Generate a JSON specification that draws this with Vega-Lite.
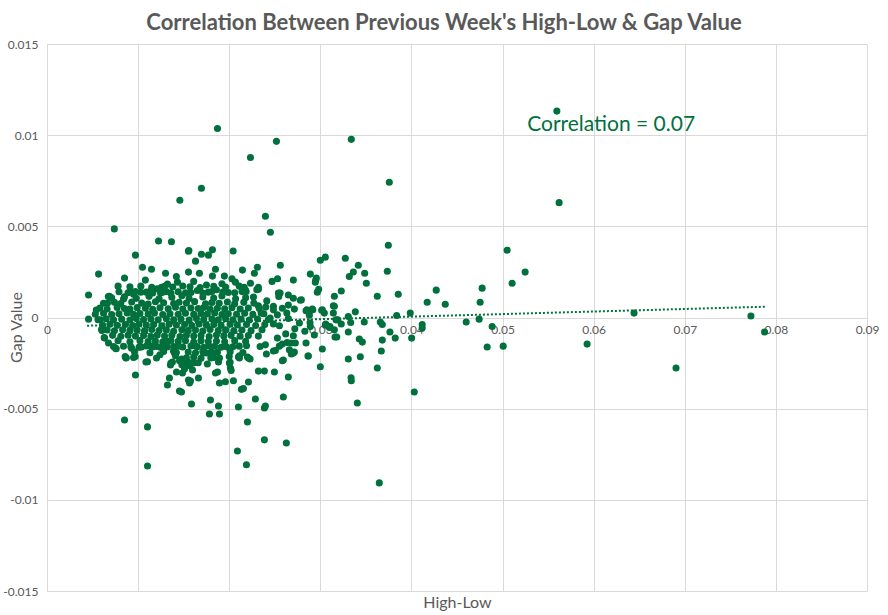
{
  "$schema": "https://vega.github.io/schema/vega-lite/v6.json",
  "autosize": "none",
  "padding": {"left": 47, "top": 44, "right": 21, "bottom": 24},
  "width": 820,
  "height": 547,
  "background": "white",
  "title": {
    "text": "Correlation Between Previous Week's High-Low & Gap Value",
    "font": "Lato",
    "fontSize": 22,
    "fontWeight": "bold",
    "color": "#595959",
    "anchor": "middle",
    "offset": 3,
    "dx": -13
  },
  "datasets": {
    "points": [
      {"x":0.05596,"y":0.01132},{"x":0.01871,"y":0.01037},{"x":0.02518,"y":0.00966},{"x":0.0334,"y":0.00977},
      {"x":0.02233,"y":0.00878},{"x":0.03757,"y":0.00742},{"x":0.01695,"y":0.00709},{"x":0.05621,"y":0.0063},
      {"x":0.01458,"y":0.00643},{"x":0.02397,"y":0.00555},{"x":0.02452,"y":0.00468},{"x":0.00739,"y":0.00486},
      {"x":0.01224,"y":0.0042},{"x":0.01366,"y":0.00415},{"x":0.01557,"y":0.00367},{"x":0.01816,"y":0.00371},
      {"x":0.02043,"y":0.00365},{"x":0.03746,"y":0.00396},{"x":0.0505,"y":0.00369},{"x":0.05248,"y":0.00249},
      {"x":0.05105,"y":0.00188},{"x":0.04776,"y":0.00161},{"x":0.04272,"y":0.0015},{"x":0.04173,"y":0.00084},
      {"x":0.04371,"y":0.00073},{"x":0.04754,"y":0.00084},{"x":0.03855,"y":0.00128},{"x":0.03625,"y":0.00117},
      {"x":0.03735,"y":0.00254},{"x":0.03274,"y":0.00325},{"x":0.03417,"y":0.00287},{"x":0.03362,"y":0.0025},
      {"x":0.03318,"y":0.00225},{"x":0.03487,"y":0.00243},{"x":0.03505,"y":0.00188},{"x":0.0323,"y":0.00145},
      {"x":0.03154,"y":0.00117},{"x":0.03055,"y":0.00331},{"x":0.03,"y":0.00314},{"x":0.0289,"y":0.00238},
      {"x":0.0295,"y":0.00206},{"x":0.02982,"y":0.00155},{"x":0.02792,"y":0.00097},{"x":0.03154,"y":0.00062},
      {"x":0.03384,"y":0.00031},{"x":0.02843,"y":0.00037},{"x":0.02912,"y":0.00046},{"x":0.03015,"y":0.0004},
      {"x":0.03143,"y":0.00024},{"x":0.03307,"y":0.00005},{"x":0.03838,"y":0.00011},{"x":0.03987,"y":0.00024},
      {"x":0.03658,"y":-0.00025},{"x":0.0368,"y":-0.00038},{"x":0.03482,"y":-0.00025},{"x":0.03333,"y":-0.00027},
      {"x":0.0323,"y":-0.00036},{"x":0.03191,"y":-0.00013},{"x":0.03059,"y":-0.00036},{"x":0.03106,"y":-0.00049},
      {"x":0.02887,"y":-0.00029},{"x":0.04118,"y":-0.00038},{"x":0.04118,"y":-0.00058},{"x":0.04601,"y":-0.00025},
      {"x":0.04743,"y":-0.00009},{"x":0.04886,"y":-0.00049},{"x":0.03154,"y":-0.00067},{"x":0.03764,"y":-0.0008},
      {"x":0.03822,"y":-0.00113},{"x":0.04002,"y":-0.00113},{"x":0.03161,"y":-0.00107},{"x":0.02934,"y":-0.00096},
      {"x":0.03307,"y":-0.0008},{"x":0.03428,"y":-0.00118},{"x":0.03461,"y":-0.00135},{"x":0.0368,"y":-0.00124},
      {"x":0.02843,"y":-0.0014},{"x":0.03022,"y":-0.00173},{"x":0.02865,"y":-0.00211},{"x":0.03307,"y":-0.00228},
      {"x":0.03439,"y":-0.00215},{"x":0.03669,"y":-0.00184},{"x":0.03,"y":-0.0027},{"x":0.03625,"y":-0.00277},
      {"x":0.03337,"y":-0.0033},{"x":0.04831,"y":-0.00162},{"x":0.05007,"y":-0.00157},{"x":0.05928,"y":-0.00146},
      {"x":0.06443,"y":0.00024},{"x":0.07726,"y":0.00008},{"x":0.07876,"y":-0.0008},{"x":0.06904,"y":-0.00277},
      {"x":0.00851,"y":-0.00562},{"x":0.01103,"y":-0.006},{"x":0.01103,"y":-0.00814},{"x":0.03647,"y":-0.00907},
      {"x":0.0209,"y":-0.00732},{"x":0.02189,"y":-0.00808},{"x":0.02386,"y":-0.00671},{"x":0.02627,"y":-0.00688},
      {"x":0.022,"y":-0.00573},{"x":0.01783,"y":-0.00529},{"x":0.01893,"y":-0.00529},{"x":0.01586,"y":-0.00474},
      {"x":0.01794,"y":-0.00452},{"x":0.01882,"y":-0.00485},{"x":0.02101,"y":-0.00491},{"x":0.02386,"y":-0.00496},
      {"x":0.02397,"y":-0.00485},{"x":0.02287,"y":-0.00447},{"x":0.02594,"y":-0.00436},{"x":0.03406,"y":-0.00469},
      {"x":0.04031,"y":-0.00409},{"x":0.01476,"y":-0.00409},{"x":0.01322,"y":-0.0037},{"x":0.01564,"y":-0.00359},
      {"x":0.01893,"y":-0.00359},{"x":0.01958,"y":-0.00352},{"x":0.02046,"y":-0.00347},{"x":0.02211,"y":-0.00354},
      {"x":0.02134,"y":-0.00394},{"x":0.02156,"y":-0.0039},{"x":0.0334,"y":-0.00347},{"x":0.00971,"y":-0.00315},
      {"x":0.0087,"y":-0.00221},{"x":0.0095,"y":-0.00219},{"x":0.01086,"y":-0.00244},{"x":0.01103,"y":-0.00243},
      {"x":0.01239,"y":-0.00204},{"x":0.01344,"y":-0.00332},{"x":0.01421,"y":-0.00299},{"x":0.01662,"y":-0.00332},
      {"x":0.0232,"y":-0.00294},{"x":0.02386,"y":-0.00294},{"x":0.02496,"y":-0.00299},{"x":0.02649,"y":-0.00326},
      {"x":0.02594,"y":-0.00233},{"x":0.02682,"y":-0.002},{"x":0.02715,"y":-0.00189},{"x":0.02868,"y":-0.00211},
      {"x":0.02726,"y":-0.0014},{"x":0.02583,"y":-0.00146},{"x":0.02485,"y":-0.00184},{"x":0.02408,"y":-0.002},
      {"x":0.02211,"y":-0.00222},{"x":0.02112,"y":-0.00222},{"x":0.02002,"y":-0.0025},{"x":0.02013,"y":-0.00277},
      {"x":0.01871,"y":-0.00299},{"x":0.01849,"y":-0.00304},{"x":0.01893,"y":-0.00222},{"x":0.01805,"y":-0.00189},
      {"x":0.01717,"y":-0.00195},{"x":0.01608,"y":-0.0025},{"x":0.01597,"y":-0.00288},{"x":0.01575,"y":-0.00348},
      {"x":0.01509,"y":-0.00272},{"x":0.01498,"y":-0.00244},{"x":0.01377,"y":-0.00244},{"x":0.01355,"y":-0.00261},
      {"x":0.01388,"y":-0.00184},{"x":0.01476,"y":-0.00228},{"x":0.013,"y":-0.00151},{"x":0.01158,"y":-0.00162},
      {"x":0.01015,"y":-0.00162},{"x":0.00928,"y":-0.00168},{"x":0.00971,"y":0.00342},{"x":0.01048,"y":0.00276},
      {"x":0.01147,"y":0.00265},{"x":0.00566,"y":0.00238},{"x":0.00851,"y":0.00216},{"x":0.01301,"y":0.00243},
      {"x":0.00456,"y":0.00123},{"x":0.00917,"y":0.00145},{"x":0.01136,"y":0.00145},{"x":0.00541,"y":0.00041},
      {"x":0.00456,"y":-0.00009},{"x":0.00686,"y":0.00117},{"x":0.01553,"y":0.00364},{"x":0.0163,"y":0.00309},
      {"x":0.01695,"y":0.00347},{"x":0.01553,"y":0.00249},{"x":0.01673,"y":0.00243},{"x":0.01257,"y":0.00166},
      {"x":0.01322,"y":0.00183},{"x":0.01432,"y":0.00194},{"x":0.01246,"y":0.00134},{"x":0.00752,"y":-0.00168},
      {"x":0.00675,"y":-0.0014},{"x":0.00632,"y":-0.00113},{"x":0.00599,"y":-0.00064},{"x":0.00866,"y":-0.00222},
      {"x":0.01454,"y":-0.00403},{"x":0.01553,"y":-0.00343},{"x":0.01487,"y":-0.00304},{"x":0.01202,"y":-0.00222},
      {"x":0.01037,"y":-0.00162},{"x":0.01147,"y":-0.00162},{"x":0.02561,"y":0.00287},{"x":0.02309,"y":0.00276},
      {"x":0.02276,"y":0.00243},{"x":0.02145,"y":0.0026},{"x":0.02704,"y":0.00205},{"x":0.02233,"y":0.00188},
      {"x":0.02068,"y":0.00194},{"x":0.0232,"y":0.00155},{"x":0.02178,"y":0.0015},{"x":0.0254,"y":0.00134},
      {"x":0.02649,"y":0.00123},{"x":0.02781,"y":0.00095},{"x":0.02485,"y":0.00062},{"x":0.02583,"y":0.00051},
      {"x":0.02715,"y":0.00046},{"x":0.0255,"y":-0.00157},{"x":0.02704,"y":-0.00195},{"x":0.02101,"y":-0.00217},
      {"x":0.01772,"y":0.00342},{"x":0.01849,"y":0.00265},{"x":0.01947,"y":0.00227},{"x":0.01816,"y":0.00227},
      {"x":0.02956,"y":0.00216},{"x":0.02945,"y":0.00194},{"x":0.02967,"y":0.00139},{"x":0.0232,"y":0.00166},
      {"x":0.00673,"y":0.00115},{"x":0.00664,"y":0.00079},{"x":0.0084,"y":0.00101},{"x":0.0095,"y":0.00128},
      {"x":0.00584,"y":-0.00013},{"x":0.00603,"y":-0.00071},{"x":0.00628,"y":-0.0011},{"x":0.0073,"y":-0.00159},
      {"x":0.0076,"y":-0.00171},{"x":0.00858,"y":-0.00214},{"x":0.00968,"y":-0.00214},{"x":0.01206,"y":-0.00159},
      {"x":0.01308,"y":-0.00144},{"x":0.0133,"y":-0.00131},{"x":0.01399,"y":-0.00195},{"x":0.0141,"y":-0.0021},
      {"x":0.0136,"y":-0.0025},{"x":0.01454,"y":-0.00237},{"x":0.0148,"y":-0.00259},{"x":0.01509,"y":-0.00283},
      {"x":0.01549,"y":-0.00244},{"x":0.01564,"y":-0.00265},{"x":0.01626,"y":-0.00155},{"x":0.01717,"y":-0.00186},
      {"x":0.01754,"y":-0.00195},{"x":0.01798,"y":-0.00222},{"x":0.01882,"y":-0.00244},{"x":0.02,"y":-0.00214},
      {"x":0.0201,"y":-0.00246},{"x":0.02021,"y":-0.0029},{"x":0.02112,"y":-0.0021},{"x":0.022,"y":-0.00217},
      {"x":0.02229,"y":-0.00228},{"x":0.02339,"y":-0.00159},{"x":0.02397,"y":-0.0015},{"x":0.02507,"y":-0.00181},
      {"x":0.02529,"y":-0.00113},{"x":0.02635,"y":-0.00137},{"x":0.02679,"y":-0.0014},{"x":0.02704,"y":-0.001},
      {"x":0.0266,"y":-0.00177},{"x":0.02583,"y":-0.00237},{"x":0.03055,"y":-0.00042},{"x":0.03099,"y":-0.00055},
      {"x":0.03172,"y":-0.00013},{"x":0.0318,"y":-0.00107},{"x":0.03143,"y":0.00064},{"x":0.03022,"y":0.00042},
      {"x":0.03044,"y":0.00024},{"x":0.02851,"y":0.00042},{"x":0.0288,"y":0.00013},{"x":0.02917,"y":0.00042},
      {"x":0.02632,"y":0.00024},{"x":0.02649,"y":-0.00005},{"x":0.02485,"y":0.00042},{"x":0.02529,"y":0.00015},
      {"x":0.02551,"y":-0.00045},{"x":0.02449,"y":-0.00003},{"x":0.02485,"y":-0.00035},{"x":0.02558,"y":0.00134},
      {"x":0.02544,"y":0.00115},{"x":0.02704,"y":0.00106},{"x":0.02649,"y":0.00068},{"x":0.02412,"y":0.00091},
      {"x":0.02401,"y":0.00057},{"x":0.0232,"y":0.00064},{"x":0.0235,"y":0.00024},{"x":0.02266,"y":0.00112},
      {"x":0.02303,"y":0.00152},{"x":0.02164,"y":0.00166},{"x":0.02186,"y":0.00142},
      {"x":0.0272,"y":-0.00062},{"x":0.0283,"y":-0.00075},{"x":0.0262,"y":-0.0009},{"x":0.0289,"y":-0.0005},{"x":0.0277,"y":-0.0003},
      {"x":0.0071,"y":0.00108},{"x":0.0085,"y":0.00113},{"x":0.0098,"y":0.00105},{"x":0.0112,"y":0.00116},{"x":0.0123,"y":0.00102},
      {"x":0.0137,"y":0.00111},{"x":0.0148,"y":0.00119},{"x":0.0156,"y":0.00104},{"x":0.0171,"y":0.00112},{"x":0.0183,"y":0.00107},
      {"x":0.0192,"y":0.00118},{"x":0.0207,"y":0.00103},{"x":0.0218,"y":0.00109},
      {"x":0.0062,"y":0.00078},{"x":0.0074,"y":0.00083},{"x":0.0081,"y":0.00076},{"x":0.0093,"y":0.00085},{"x":0.0104,"y":0.00079},
      {"x":0.0111,"y":0.00074},{"x":0.0119,"y":0.00086},{"x":0.0128,"y":0.00081},{"x":0.0139,"y":0.00077},{"x":0.0145,"y":0.00084},
      {"x":0.0153,"y":0.00079},{"x":0.0162,"y":0.00087},{"x":0.0174,"y":0.00075},{"x":0.0181,"y":0.00082},{"x":0.0189,"y":0.00078},
      {"x":0.0198,"y":0.00085},{"x":0.0206,"y":0.00076},{"x":0.0216,"y":0.00083},{"x":0.0227,"y":0.00079},
      {"x":0.0058,"y":0.00052},{"x":0.0066,"y":0.00047},{"x":0.0077,"y":0.00055},{"x":0.0085,"y":0.00049},{"x":0.0091,"y":0.00046},
      {"x":0.0099,"y":0.00054},{"x":0.0108,"y":0.00051},{"x":0.0116,"y":0.00045},{"x":0.0124,"y":0.00053},{"x":0.0133,"y":0.00048},
      {"x":0.0141,"y":0.00056},{"x":0.0149,"y":0.00047},{"x":0.0158,"y":0.00052},{"x":0.0166,"y":0.00049},{"x":0.0172,"y":0.00055},
      {"x":0.0179,"y":0.00046},{"x":0.0187,"y":0.00051},{"x":0.0195,"y":0.00048},{"x":0.0203,"y":0.00054},{"x":0.0212,"y":0.00047},
      {"x":0.0221,"y":0.00052},{"x":0.0233,"y":0.00049},
      {"x":0.0053,"y":0.00018},{"x":0.0062,"y":0.00023},{"x":0.0071,"y":0.00016},{"x":0.0079,"y":0.00021},{"x":0.0088,"y":0.00025},
      {"x":0.0095,"y":0.00017},{"x":0.0102,"y":0.00022},{"x":0.0111,"y":0.00019},{"x":0.0118,"y":0.00024},{"x":0.0127,"y":0.00016},
      {"x":0.0135,"y":0.00021},{"x":0.0144,"y":0.00018},{"x":0.0152,"y":0.00023},{"x":0.0161,"y":0.00017},{"x":0.0169,"y":0.00022},
      {"x":0.0176,"y":0.00019},{"x":0.0184,"y":0.00025},{"x":0.0192,"y":0.00016},{"x":0.0199,"y":0.00021},{"x":0.0208,"y":0.00018},
      {"x":0.0217,"y":0.00023},{"x":0.0226,"y":0.00017},{"x":0.0238,"y":0.00021},
      {"x":0.0056,"y":-0.00012},{"x":0.0065,"y":-0.00007},{"x":0.0073,"y":-0.00013},{"x":0.0082,"y":-0.00009},{"x":0.0091,"y":-0.00014},
      {"x":0.0098,"y":-0.00006},{"x":0.0106,"y":-0.00011},{"x":0.0114,"y":-0.00008},{"x":0.0122,"y":-0.00013},{"x":0.0131,"y":-0.00007},
      {"x":0.0139,"y":-0.00012},{"x":0.0147,"y":-0.00009},{"x":0.0156,"y":-0.00014},{"x":0.0164,"y":-0.00006},{"x":0.0172,"y":-0.00011},
      {"x":0.0181,"y":-0.00008},{"x":0.0188,"y":-0.00013},{"x":0.0196,"y":-0.00007},{"x":0.0204,"y":-0.00012},{"x":0.0213,"y":-0.00009},
      {"x":0.0222,"y":-0.00014},{"x":0.0231,"y":-0.00008},{"x":0.0243,"y":-0.00011},
      {"x":0.0061,"y":-0.00041},{"x":0.0069,"y":-0.00037},{"x":0.0077,"y":-0.00043},{"x":0.0086,"y":-0.00038},{"x":0.0094,"y":-0.00044},
      {"x":0.0101,"y":-0.00036},{"x":0.0109,"y":-0.00042},{"x":0.0117,"y":-0.00039},{"x":0.0126,"y":-0.00045},{"x":0.0134,"y":-0.00037},
      {"x":0.0142,"y":-0.00041},{"x":0.0151,"y":-0.00038},{"x":0.0159,"y":-0.00044},{"x":0.0167,"y":-0.00036},{"x":0.0175,"y":-0.00042},
      {"x":0.0183,"y":-0.00039},{"x":0.0191,"y":-0.00043},{"x":0.0201,"y":-0.00037},{"x":0.0209,"y":-0.00041},{"x":0.0219,"y":-0.00038},
      {"x":0.0229,"y":-0.00044},{"x":0.0239,"y":-0.00039},
      {"x":0.0066,"y":-0.00068},{"x":0.0074,"y":-0.00073},{"x":0.0083,"y":-0.00067},{"x":0.0091,"y":-0.00072},{"x":0.0099,"y":-0.00069},
      {"x":0.0107,"y":-0.00074},{"x":0.0115,"y":-0.00066},{"x":0.0123,"y":-0.00071},{"x":0.0131,"y":-0.00068},{"x":0.0139,"y":-0.00075},
      {"x":0.0148,"y":-0.00067},{"x":0.0155,"y":-0.00072},{"x":0.0163,"y":-0.00069},{"x":0.0171,"y":-0.00074},{"x":0.0179,"y":-0.00066},
      {"x":0.0188,"y":-0.00071},{"x":0.0196,"y":-0.00068},{"x":0.0205,"y":-0.00073},{"x":0.0214,"y":-0.00069},{"x":0.0224,"y":-0.00072},
      {"x":0.0236,"y":-0.00067},
      {"x":0.0072,"y":-0.00098},{"x":0.0081,"y":-0.00103},{"x":0.0089,"y":-0.00097},{"x":0.0097,"y":-0.00102},{"x":0.0106,"y":-0.00099},
      {"x":0.0114,"y":-0.00104},{"x":0.0121,"y":-0.00096},{"x":0.0129,"y":-0.00101},{"x":0.0137,"y":-0.00098},{"x":0.0146,"y":-0.00105},
      {"x":0.0153,"y":-0.00097},{"x":0.0161,"y":-0.00102},{"x":0.0169,"y":-0.00099},{"x":0.0178,"y":-0.00104},{"x":0.0186,"y":-0.00096},
      {"x":0.0194,"y":-0.00101},{"x":0.0202,"y":-0.00098},{"x":0.0212,"y":-0.00103},{"x":0.0221,"y":-0.00099},{"x":0.0232,"y":-0.00102},
      {"x":0.0078,"y":-0.00128},{"x":0.0091,"y":-0.00133},{"x":0.0102,"y":-0.00127},{"x":0.0111,"y":-0.00132},{"x":0.0119,"y":-0.00129},
      {"x":0.0127,"y":-0.00134},{"x":0.0136,"y":-0.00126},{"x":0.0144,"y":-0.00131},{"x":0.0152,"y":-0.00128},{"x":0.0161,"y":-0.00135},
      {"x":0.0169,"y":-0.00127},{"x":0.0177,"y":-0.00132},{"x":0.0186,"y":-0.00129},{"x":0.0195,"y":-0.00133},{"x":0.0206,"y":-0.00127},
      {"x":0.0218,"y":-0.00131},
      {"x":0.0084,"y":-0.00158},{"x":0.0101,"y":-0.00163},{"x":0.0116,"y":-0.00157},{"x":0.0125,"y":-0.00165},{"x":0.0139,"y":-0.00159},
      {"x":0.0149,"y":-0.00162},{"x":0.0158,"y":-0.00156},{"x":0.0172,"y":-0.00164},{"x":0.0184,"y":-0.00158},{"x":0.0197,"y":-0.00161},
      {"x":0.0211,"y":-0.00157},
      {"x":0.0092,"y":-0.00161},{"x":0.0109,"y":-0.00156},{"x":0.0132,"y":-0.00162},{"x":0.0144,"y":-0.00157},{"x":0.0165,"y":-0.0016},
      {"x":0.0178,"y":-0.00156},{"x":0.0191,"y":-0.00163},{"x":0.0204,"y":-0.0016},{"x":0.0219,"y":-0.00155},
      {"x":0.0096,"y":-0.00188},{"x":0.0113,"y":-0.00193},{"x":0.0128,"y":-0.00187},{"x":0.0142,"y":-0.00192},{"x":0.0155,"y":-0.00189},
      {"x":0.0163,"y":-0.00194},{"x":0.0171,"y":-0.00187},{"x":0.0187,"y":-0.00191},{"x":0.0201,"y":-0.00188},{"x":0.0215,"y":-0.00192},
      {"x":0.0153,"y":-0.00221},{"x":0.0161,"y":-0.00217},{"x":0.0169,"y":-0.00224},{"x":0.0183,"y":-0.00219},
      {"x":0.0157,"y":-0.00252},{"x":0.0166,"y":-0.00248},{"x":0.0176,"y":-0.00255},
      {"x":0.0103,"y":0.00138},{"x":0.0131,"y":0.00142},{"x":0.0152,"y":0.00135},{"x":0.0165,"y":0.00148},{"x":0.0177,"y":0.00139},
      {"x":0.0199,"y":0.00137},{"x":0.0121,"y":0.00157},{"x":0.0186,"y":0.00152},
      {"x":0.0079,"y":0.00141},{"x":0.0089,"y":0.00136},{"x":0.0097,"y":0.00143},{"x":0.0109,"y":0.00139},{"x":0.0116,"y":0.00134},
      {"x":0.0127,"y":0.00138},{"x":0.0136,"y":0.00133},{"x":0.0144,"y":0.00141},{"x":0.0158,"y":0.00137},{"x":0.0171,"y":0.00134},
      {"x":0.0181,"y":0.00143},{"x":0.0193,"y":0.00139},{"x":0.0206,"y":0.00136},{"x":0.0214,"y":0.00142},
      {"x":0.0091,"y":0.00168},{"x":0.0103,"y":0.00172},{"x":0.0115,"y":0.00166},{"x":0.0129,"y":0.00171},{"x":0.0138,"y":0.00167},
      {"x":0.0149,"y":0.00173},{"x":0.0157,"y":0.00168},{"x":0.0168,"y":0.00165},{"x":0.0183,"y":0.00171},{"x":0.0196,"y":0.00167},
      {"x":0.0211,"y":0.00172},
      {"x":0.0108,"y":0.00205},{"x":0.0142,"y":0.00225},{"x":0.0161,"y":0.00198},{"x":0.0192,"y":0.00185},{"x":0.0203,"y":0.00212},
      {"x":0.0175,"y":0.00178},{"x":0.0078,"y":0.00172},{"x":0.0253,"y":0.00213},{"x":0.0247,"y":0.00198}
    ],
    "trend": [
      {"x": 0.0044, "y": -0.00045},
      {"x": 0.0788, "y": 0.00059}
    ],
    "note": [
      {"x": 0.0527, "y": 0.01055, "label": "Correlation = 0.07"}
    ]
  },
  "encoding": {
    "x": {
      "field": "x",
      "type": "quantitative",
      "scale": {"domain": [0, 0.09], "nice": false, "zero": false},
      "axis": {
        "title": "High-Low",
        "values": [0, 0.01, 0.02, 0.03, 0.04, 0.05, 0.06, 0.07, 0.08, 0.09],
        "labelExpr": "'' + datum.value",
        "offset": -273,
        "ticks": false,
        "domainColor": "#d9d9d9",
        "labelPadding": 6,
        "labelFlush": false,
        "titleY": 284,
        "titleBaseline": "middle"
      }
    },
    "y": {
      "field": "y",
      "type": "quantitative",
      "scale": {"domain": [-0.015, 0.015], "nice": false, "zero": false},
      "axis": {
        "title": "Gap Value",
        "values": [-0.015, -0.01, -0.005, 0, 0.005, 0.01, 0.015],
        "labelExpr": "'' + datum.value",
        "ticks": false,
        "domain": false,
        "labelPadding": 9,
        "labelFlush": false,
        "titleX": -26,
        "titleY": 283,
        "titleBaseline": "alphabetic"
      }
    }
  },
  "layer": [
    {
      "data": {"name": "points"},
      "mark": {"type": "circle", "size": 50, "opacity": 1, "color": "#00703c"}
    },
    {
      "data": {"name": "trend"},
      "mark": {"type": "line", "color": "#00703c", "strokeWidth": 2, "strokeDash": [2, 2]}
    },
    {
      "data": {"name": "note"},
      "mark": {"type": "text", "align": "left", "baseline": "middle", "font": "Lato", "fontSize": 21, "color": "#00703c"},
      "encoding": {"text": {"field": "label"}}
    }
  ],
  "config": {
    "view": {"stroke": null},
    "axis": {
      "grid": true,
      "gridColor": "#d9d9d9",
      "labelFont": "Lato",
      "labelFontSize": 12,
      "labelColor": "#595959",
      "titleFont": "Lato",
      "titleFontSize": 16,
      "titleFontWeight": "normal",
      "titleColor": "#595959"
    }
  }
}
